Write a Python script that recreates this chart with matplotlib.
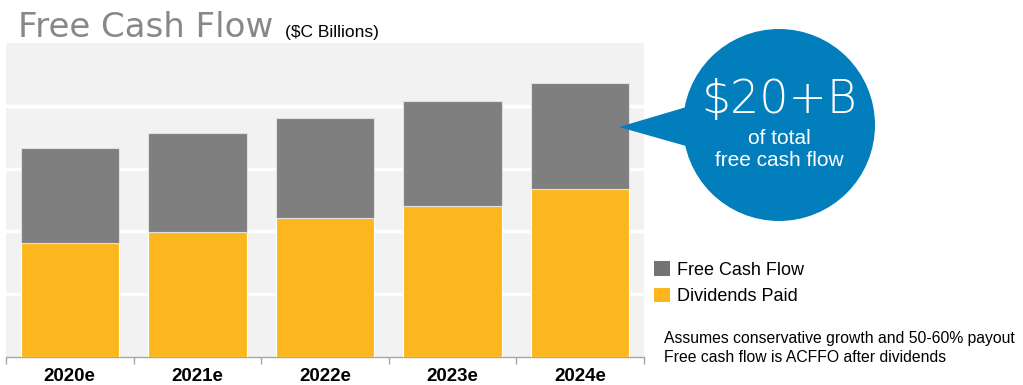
import matplotlib
matplotlib.use("Agg")
import matplotlib.pyplot as plt
from matplotlib.patches import Circle, Polygon, Patch
import numpy as np

categories = ["2020e", "2021e", "2022e", "2023e", "2024e"]
dividends_paid = [1.81, 1.99, 2.21, 2.41, 2.67]
free_cash_flow = [1.52, 1.58, 1.60, 1.67, 1.70]
notes = ["Assumes conservative growth and 50-60% payout",
         "Free cash flow is ACFFO after dividends"]

W, H = 1023, 385
fig = plt.figure(figsize=(W / 100, H / 100), dpi=100)
fig.patch.set_facecolor("white")

def fx(px):
    return px / W

def fy(py):
    return 1 - py / H

ax = fig.add_axes([fx(6), fy(357), fx(644) - fx(6), fy(43) - fy(357)])
ax.set_facecolor("#f2f2f2")
x = np.arange(len(categories))
yellow = "#fdb71e"
gray = "#7f7f7f"
ax.bar(x, dividends_paid, width=0.77, color=yellow, edgecolor="white", linewidth=0.8, zorder=3)
ax.bar(x, free_cash_flow, width=0.77, bottom=dividends_paid, color=gray, edgecolor="#e0e0e0", linewidth=0.8, zorder=3)
ax.set_xlim(-0.5, len(categories) - 0.5)
ax.set_ylim(0, 5)
ax.set_yticks([1, 2, 3, 4])
ax.yaxis.grid(True, color="white", linewidth=2.5, zorder=1)
ax.tick_params(axis="y", length=0, labelleft=False)
ax.set_xticks(x)
ax.set_xticklabels(categories, fontfamily="Liberation Sans", fontweight="bold", fontsize=13.5)
ax.tick_params(axis="x", which="major", length=0, pad=8)
ax.set_xticks(np.arange(-0.5, len(categories)), minor=True)
ax.tick_params(axis="x", which="minor", length=5, color="#a6a6a6", width=1)
for s in ["top", "right", "left"]:
    ax.spines[s].set_visible(False)
ax.spines["bottom"].set_color("#a6a6a6")
ax.spines["bottom"].set_linewidth(1)

# overlay in pixel coordinates
ov = fig.add_axes([0, 0, 1, 1], facecolor="none")
ov.set_xlim(0, W)
ov.set_ylim(H, 0)
ov.axis("off")

ov.text(18, 37, "Free Cash Flow", fontsize=24.5, color="#888888", fontfamily="DejaVu Sans",
        ha="left", va="baseline")
ov.text(285, 37, "($C Billions)", fontsize=12.5, color="black", fontfamily="Liberation Sans",
        ha="left", va="baseline")

blue = "#037ebd"
ov.add_patch(Polygon([[619, 127], [700, 103], [700, 150]], closed=True, facecolor=blue,
                     edgecolor="none", zorder=5))
ov.add_patch(Circle((779, 125), 96, facecolor=blue, edgecolor="none", zorder=5))
ov.text(779, 100, "$20+B", fontsize=33, color="white", fontfamily="DejaVu Sans",
        fontweight="light", ha="center", va="center", zorder=6)
ov.text(779, 138, "of total", fontsize=15, color="white", fontfamily="Liberation Sans",
        ha="center", va="center", zorder=6)
ov.text(779, 160, "free cash flow", fontsize=15, color="white", fontfamily="Liberation Sans",
        ha="center", va="center", zorder=6)

handles = [Patch(facecolor="#737373", label="Free Cash Flow"),
           Patch(facecolor=yellow, label="Dividends Paid")]
fig.legend(handles=handles, loc="upper left", bbox_to_anchor=(fx(647), fy(254)),
           frameon=False, prop={"family": "Liberation Sans", "size": 13},
           handlelength=0.85, handleheight=0.85, handletextpad=0.4, labelspacing=0.5,
           borderaxespad=0)

ov.text(664, 338, notes[0], fontsize=11.3, fontfamily="Liberation Sans", color="black",
        ha="left", va="center")
ov.text(664, 357, notes[1], fontsize=11.3, fontfamily="Liberation Sans", color="black",
        ha="left", va="center")

fig.savefig("out.png", dpi=100, facecolor="white")
